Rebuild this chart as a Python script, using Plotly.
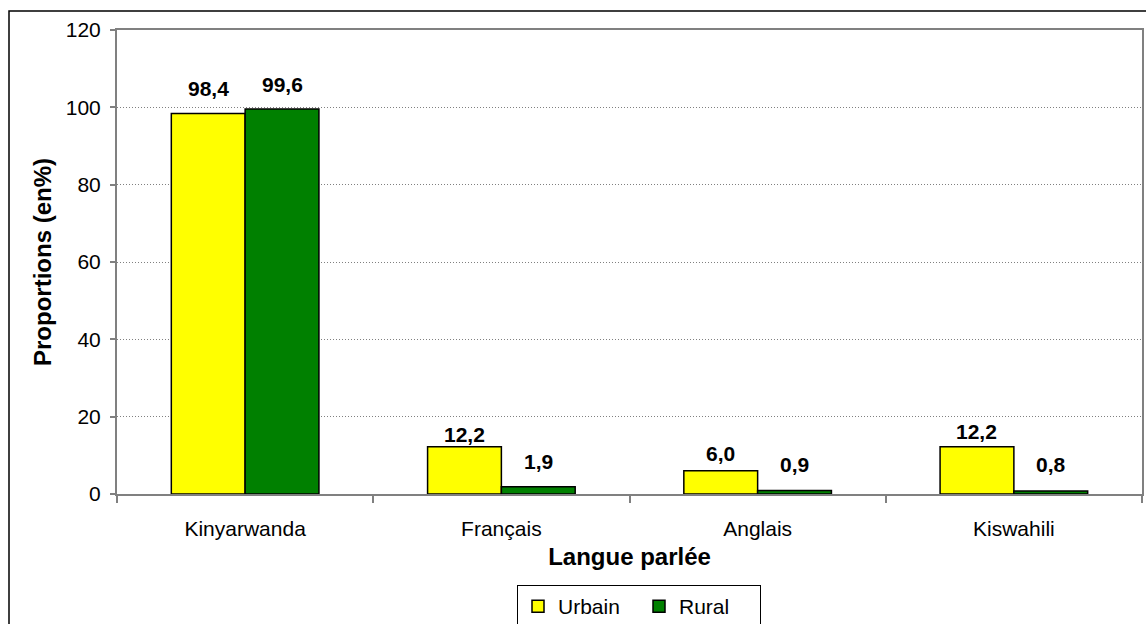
import plotly.graph_objects as go

categories = ["Kinyarwanda", "Français", "Anglais", "Kiswahili"]
urbain = [98.4, 12.2, 6.0, 12.2]
rural = [99.6, 1.9, 0.9, 0.8]
y_ticks = [0, 20, 40, 60, 80, 100, 120]

# label offsets (style, px above bar top)
urb_gap = [25, 12, 17, 15]
rur_gap = [24, 25, 26, 26]

FONT = "Arial, Liberation Sans, sans-serif"

def fmt(v):
    return f"{v:.1f}".replace(".", ",")

fig = go.Figure()
fig.add_trace(go.Bar(x=categories, y=urbain, name="Urbain",
                     marker=dict(color="#FFFF00", line=dict(color="black", width=1.5))))
fig.add_trace(go.Bar(x=categories, y=rural, name="Rural",
                     marker=dict(color="#008000", line=dict(color="black", width=1.5))))

annotations = []
for c, v, g in zip(categories, urbain, urb_gap):
    annotations.append(dict(x=c, y=v, text=fmt(v), showarrow=False, xshift=-37, yshift=g,
                            yanchor="middle", font=dict(family=FONT, size=21, color="black", weight="bold")))
for c, v, g in zip(categories, rural, rur_gap):
    annotations.append(dict(x=c, y=v, text=fmt(v), showarrow=False, xshift=37, yshift=g,
                            yanchor="middle", font=dict(family=FONT, size=21, color="black", weight="bold")))

L, R, T, B = 117, 1142, 30, 494
W, H = 1146, 624
pw, ph = R - L, B - T

fig.update_layout(
    width=W, height=H,
    margin=dict(l=L, r=W - R, t=T, b=H - B, autoexpand=False),
    paper_bgcolor="white", plot_bgcolor="white",
    barmode="group", bargap=0.424, bargroupgap=0,
    font=dict(family=FONT, size=21, color="black"),
    annotations=annotations,
    showlegend=True,
    legend=dict(orientation="h", x=(639 - L) / pw, xanchor="center", y=(B - 585) / ph, yanchor="top",
                bordercolor="black", borderwidth=1, bgcolor="white",
                font=dict(family=FONT, size=21, color="black"),
                itemwidth=30, entrywidth=76, traceorder="normal"),
    xaxis=dict(
        type="category", tickson="boundaries", ticks="outside", ticklen=7, tickcolor="#808080",
        tickwidth=1.5, showline=True, linecolor="#808080", linewidth=2, mirror=True,
        showgrid=False, tickfont=dict(family=FONT, size=21, color="black"),
        ticklabelstandoff=15,
        title=dict(text="Langue parlée", font=dict(family=FONT, size=24, color="black", weight="bold"),
                   standoff=9),
    ),
    yaxis=dict(
        range=[0, 120], tickvals=y_ticks, ticks="outside", ticklen=5, tickcolor="#808080",
        tickwidth=1.5, showline=True, linecolor="#808080", linewidth=2, mirror=True,
        showgrid=True, gridcolor="#808080", gridwidth=1, griddash="1px,2px",
        zeroline=False, tickfont=dict(family=FONT, size=21, color="black"),
        ticklabelstandoff=5,
        title=dict(text="Proportions (en%)", font=dict(family=FONT, size=24, color="black", weight="bold"),
                   standoff=7),
    ),
    shapes=[dict(type="rect", xref="paper", yref="paper",
                 x0=(9 - L) / pw, x1=(1160 - L) / pw, y0=(B - 640) / ph, y1=(B - 11) / ph,
                 line=dict(color="black", width=1.5), fillcolor="rgba(0,0,0,0)", layer="below")],
)

fig.write_html("out.html", config={"displayModeBar": False},
               post_script="document.body.style.margin='0';document.body.style.overflow='hidden';")
